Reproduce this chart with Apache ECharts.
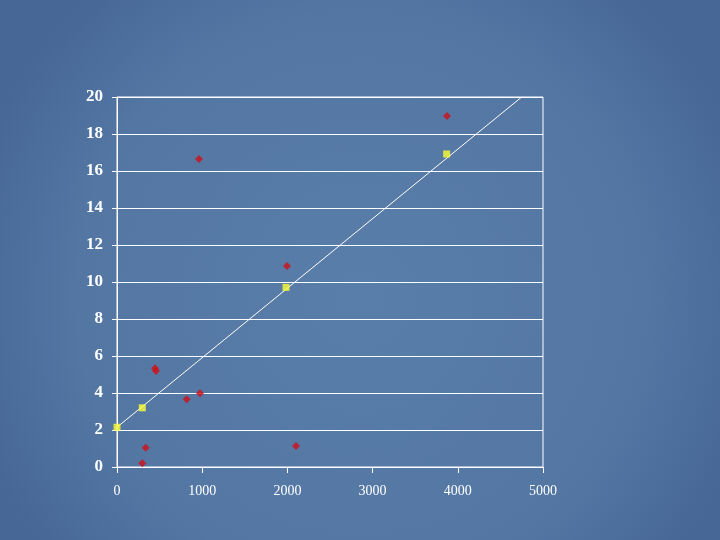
<!DOCTYPE html>
<html>
<head>
<meta charset="utf-8">
<script src="https://cdn.jsdelivr.net/npm/echarts@6/dist/echarts.min.js"></script>
<style>
html,body{margin:0;padding:0;}
#c{width:720px;height:540px;}
</style>
</head>
<body>
<div id="c"></div>
<script>
const redX = [962, 3873, 1995, 446, 458, 818, 974, 337, 297, 2101];
const redY = [16.65, 18.97, 10.86, 5.34, 5.19, 3.66, 3.98, 1.04, 0.2, 1.14];
const yellowX = [0, 297, 1984, 3869];
const yellowY = [2.15, 3.2, 9.71, 16.92];
const lineX = [0, 4750];
const lineY = [2.15, 20];
const xTicks = [0, 1000, 2000, 3000, 4000, 5000];
const yTicks = [0, 2, 4, 6, 8, 10, 12, 14, 16, 18, 20];

const zip = (a, b) => a.map((v, i) => [v, b[i]]);

const chart = echarts.init(document.getElementById('c'));
chart.setOption({
  backgroundColor: {
    type: 'radial', x: 0.5, y: 0.55, r: 0.75,
    colorStops: [
      {offset: 0, color: '#5a7eaa'},
      {offset: 0.7, color: '#5376a3'},
      {offset: 1, color: '#476897'}
    ]
  },
  animation: false,
  grid: {
    left: 117, right: 177, top: 97, bottom: 73,
    show: true, borderColor: '#ffffff', borderWidth: 1,
    backgroundColor: 'transparent'
  },
  xAxis: {
    type: 'value', min: 0, max: 5000, interval: 1000,
    axisLine: {show: true, lineStyle: {color: '#ffffff', width: 1}},
    axisTick: {show: true, length: 6, lineStyle: {color: '#ffffff'}},
    splitLine: {show: false},
    axisLabel: {
      color: '#ffffff', fontFamily: 'Liberation Serif', fontSize: 14, margin: 17,
      formatter: v => xTicks.includes(v) ? String(v) : ''
    }
  },
  yAxis: {
    type: 'value', min: 0, max: 20, interval: 2,
    axisLine: {show: true, lineStyle: {color: '#ffffff', width: 1}},
    axisTick: {show: true, length: 5, lineStyle: {color: '#ffffff'}},
    splitLine: {show: true, lineStyle: {color: '#ffffff', width: 1}},
    axisLabel: {
      color: '#ffffff', fontFamily: 'Liberation Serif', fontWeight: 'bold', fontSize: 17, margin: 14,
      formatter: v => yTicks.includes(v) ? String(v) : ''
    }
  },
  series: [
    {
      type: 'line', data: zip(lineX, lineY), symbol: 'none',
      lineStyle: {color: '#ffffff', width: 1}, z: 2
    },
    {
      type: 'scatter', data: zip(redX, redY), symbol: 'diamond', symbolSize: 8,
      itemStyle: {color: '#d01018'}, z: 3
    },
    {
      type: 'scatter', data: zip(yellowX, yellowY), symbol: 'rect', symbolSize: 7,
      itemStyle: {color: '#ffff33'}, z: 3
    }
  ]
});
</script>
</body>
</html>
